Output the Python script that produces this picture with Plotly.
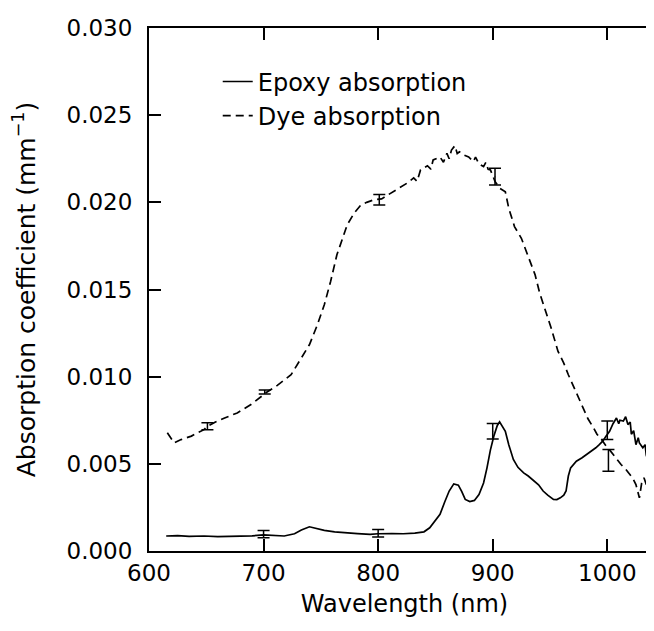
import numpy as np
import plotly.graph_objects as go

# ---- data (absorption in units of 1e-3 mm^-1) ----
epoxy_nm = [615, 625, 635, 648, 660, 677, 690, 700, 710, 718, 727, 733, 740, 746, 753, 762, 770, 782, 793, 800,
            812, 822, 832, 840, 845, 851, 854, 858, 862, 866, 870, 873, 876, 880, 884, 888, 892, 895, 898, 901,
            904, 906, 908, 911, 914, 918, 922, 927, 931, 935, 940, 944, 948, 953, 956, 959, 962, 964, 966, 968,
            973, 978, 982, 986, 990, 993, 996, 999, 1002, 1005, 1008, 1010, 1011, 1014, 1016, 1018, 1020, 1021,
            1023, 1025, 1027, 1028, 1031, 1033, 1034, 1037, 1039, 1041]
epoxy_abs = [0.86, 0.88, 0.84, 0.86, 0.83, 0.84, 0.87, 0.92, 0.88, 0.86, 0.99, 1.2, 1.39, 1.3, 1.18, 1.1, 1.05, 1.0, 0.95, 0.99,
             1.0, 0.99, 1.03, 1.1, 1.33, 1.81, 2.1, 2.8, 3.44, 3.85, 3.78, 3.4, 2.96, 2.84, 2.9, 3.24, 3.9, 4.77, 5.8, 6.6,
             7.2, 7.41, 7.2, 6.87, 6.1, 5.25, 4.8, 4.48, 4.3, 4.1, 3.8, 3.44, 3.2, 2.96, 2.95, 3.05, 3.2, 3.44, 4.3, 4.77,
             5.15, 5.35, 5.53, 5.7, 5.92, 6.1, 6.3, 6.6, 6.87, 7.3, 7.63, 7.3, 7.5, 7.45, 7.7, 7.25, 7.4, 6.7,
             6.9, 6.1, 6.5, 6.2, 5.92, 6.1, 5.5, 4.96, 5.2, 4.58]

dye_nm = [616, 619, 622, 628, 637, 643, 648, 651, 658, 666, 677, 689, 697, 703, 712, 724, 732, 740, 747, 753,
          758.5, 764, 769, 773, 779, 785, 790, 796, 803, 808, 814, 820, 825, 831, 834, 837, 843, 846, 848, 854,
          857, 860, 862, 864, 867, 869, 871, 875, 879, 883, 885, 888, 892, 894, 896, 898, 902, 906, 911, 914,
          919, 925, 931, 937, 941, 945.5, 951, 957, 962, 966, 970, 975, 979, 983, 988, 991, 995, 999, 1002,
          1005, 1008, 1012, 1016, 1019, 1022, 1025, 1028, 1030, 1032, 1035, 1038, 1040, 1042]
dye_abs = [6.78, 6.5, 6.2, 6.39, 6.59, 6.8, 6.96, 7.15, 7.4, 7.63, 7.92, 8.4, 8.8, 9.12, 9.5, 10.11, 10.97, 11.83, 12.98, 14.12,
           15.46, 16.99, 17.94, 18.71, 19.38, 19.85, 20.0, 20.14, 20.2, 20.4, 20.62, 20.9, 21.09, 21.4, 21.2, 21.86, 22.1, 21.9, 22.43, 22.6,
           22.3, 22.81, 22.5, 23.0, 23.25, 22.8, 22.9, 22.71, 22.6, 22.34, 22.6, 22.2, 22.05, 22.3, 21.9, 21.86, 21.2, 20.81, 20.6, 19.66,
           18.61, 17.94, 16.9, 15.84, 14.79, 13.93, 12.79, 11.45, 10.78, 10.11, 9.54, 8.8, 8.21, 7.6, 7.06, 6.7, 6.39, 6.01, 5.8,
           5.53, 5.3, 4.96, 4.7, 4.48, 4.2, 3.81, 3.05, 3.9, 4.2, 3.63, 2.67, 3.81, 2.9]

# error bars
epoxy_err_nm = [700, 800, 900, 1000]
epoxy_err_val = [0.97, 1.02, 6.87, 6.92]
epoxy_err = [0.21, 0.22, 0.44, 0.53]

dye_err_nm = [651, 701, 801, 902, 1001]
dye_err_val = [7.15, 9.12, 20.15, 21.47, 5.2]
dye_err = [0.2, 0.12, 0.3, 0.48, 0.62]

x_ticks = [600, 700, 800, 900, 1000]
y_ticks = [0.000, 0.005, 0.010, 0.015, 0.020, 0.025, 0.030]

SCALE = 1e-3
FONT = "DejaVu Sans"

fig = go.Figure()
fig.add_trace(go.Scatter(x=epoxy_nm, y=np.array(epoxy_abs) * SCALE, mode="lines",
                         name="Epoxy absorption", line=dict(color="black", width=1.7)))
fig.add_trace(go.Scatter(x=dye_nm, y=np.array(dye_abs) * SCALE, mode="lines",
                         name="Dye absorption", line=dict(color="black", width=1.7, dash="8px,5px")))
fig.add_trace(go.Scatter(x=epoxy_err_nm, y=np.array(epoxy_err_val) * SCALE, mode="markers",
                         marker=dict(size=1, color="black"), showlegend=False,
                         error_y=dict(type="data", array=np.array(epoxy_err) * SCALE, color="black",
                                      thickness=1.5, width=6)))
fig.add_trace(go.Scatter(x=dye_err_nm, y=np.array(dye_err_val) * SCALE, mode="markers",
                         marker=dict(size=1, color="black"), showlegend=False,
                         error_y=dict(type="data", array=np.array(dye_err) * SCALE, color="black",
                                      thickness=1.5, width=6)))

fig.update_layout(
    width=654, height=631,
    margin=dict(l=141, r=0, t=20, b=88),
    paper_bgcolor="white", plot_bgcolor="white",
    font=dict(family=FONT, color="black", size=23),
    showlegend=True,
    legend=dict(x=0.1345, y=0.94, xanchor="left", yanchor="top", bgcolor="rgba(0,0,0,0)",
                font=dict(family=FONT, size=24, color="black"), itemwidth=30, tracegroupgap=0),
    xaxis=dict(range=[600, 1046], tickvals=x_ticks, ticks="inside", ticklen=12, tickwidth=1.5,
               tickcolor="black", showline=True, linecolor="black", linewidth=2, mirror="ticks",
               showgrid=False, zeroline=False, tickfont=dict(size=23),
               title=dict(text="Wavelength (nm)", font=dict(size=24), standoff=11)),
    yaxis=dict(range=[0, 0.030], tickvals=y_ticks, tickformat=".3f", ticks="inside", ticklen=12,
               tickwidth=1.5, tickcolor="black", showline=True, linecolor="black", linewidth=2,
               mirror="ticks", showgrid=False, zeroline=False, tickfont=dict(size=23),
               ticklabelstandoff=10,
               title=dict(text="Absorption coefficient (mm<sup>−1</sup>)", font=dict(size=25), standoff=24)),
)

fig.write_html("out.html")
